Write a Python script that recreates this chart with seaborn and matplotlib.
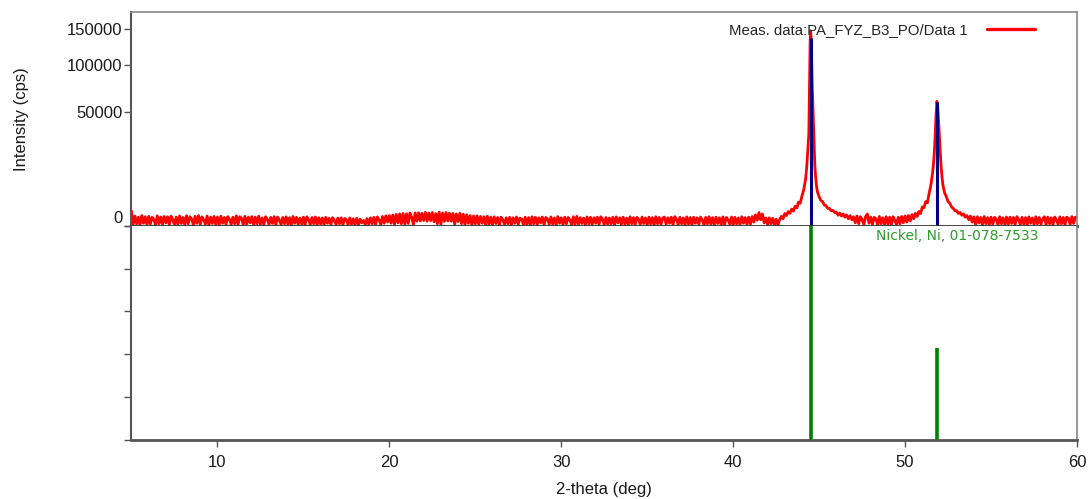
"""XRD pattern of PA_FYZ_B3_PO with Ni reference (01-078-7533)."""
import numpy as np
import pandas as pd
import matplotlib
matplotlib.use("Agg")
import matplotlib.pyplot as plt
import matplotlib.transforms as mtransforms
import seaborn as sns

nan = np.nan

# scan grid of the measured background: 5.0 deg, step 0.1 deg (values in cps)
SCAN_START = 5.0
SCAN_STEP = 0.1
bg_cps = [
    880, 10, 380, 20, 300, 5, 420, 30, 330, 8,              # 5
    360, 15, 290, 180, 5, 400, 20, 310, 10, 350,            # 6
    40, 330, 6, 370, 150, 10, 300, 12, 390, 25,             # 7
    280, 8, 410, 20, 330, 200, 5, 360, 30, 420,             # 8
    10, 320, 150, 15, 380, 6, 300, 25, 350, 12,             # 9
    310, 5, 370, 30, 280, 10, 340, 180, 8, 300,             # 10
    20, 390, 10, 330, 230, 5, 360, 15, 290, 40,             # 11
    340, 8, 300, 20, 370, 12, 250, 6, 330, 180,             # 12
    10, 290, 25, 340, 5, 310, 140, 8, 280, 20,              # 13
    320, 12, 270, 6, 350, 30, 290, 10, 240, 15,             # 14
    300, 5, 330, 160, 8, 280, 20, 310, 10, 260,             # 15
    15, 250, 8, 290, 30, 230, 6, 270, 120, 10,              # 16
    240, 20, 260, 5, 220, 150, 8, 250, 12, 200,             # 17
    10, 230, 6, 180, 40, 120, 5, 210, 15, 260,              # 18
    20, 290, 10, 320, 150, 8, 350, 30, 400, 60,             # 19
    420, 30, 470, 10, 520, 40, 560, 20, 600, 15,            # 20
    580, 25, 640, 300, 10, 660, 90, 680, 100, 620,          # 21
    120, 720, 90, 650, 110, 700, 70, 600, 20, 740,          # 22
    15, 660, 80, 700, 100, 640, 90, 610, 10, 560,           # 23
    80, 620, 20, 540, 10, 480, 30, 420, 5, 390,             # 24
    20, 400, 10, 350, 30, 330, 6, 370, 15, 300,             # 25
    8, 320, 25, 280, 5, 300, 150, 10, 260, 20,              # 26
    290, 6, 260, 30, 310, 10, 240, 180, 8, 300,             # 27
    12, 270, 5, 330, 20, 290, 10, 260, 40, 310,             # 28
    6, 280, 200, 10, 320, 15, 250, 5, 340, 30,              # 29
    260, 8, 300, 20, 280, 150, 6, 330, 12, 360,             # 30
    10, 270, 25, 240, 5, 310, 18, 290, 8, 260,              # 31
    30, 300, 10, 330, 170, 6, 280, 15, 250, 20,             # 32
    290, 5, 320, 40, 260, 10, 300, 12, 240, 8,              # 33
    330, 20, 270, 6, 290, 160, 10, 310, 25, 250,            # 34
    8, 300, 15, 270, 5, 330, 20, 280, 10, 240,              # 35
    310, 12, 260, 30, 300, 6, 340, 180, 10, 290,            # 36
    20, 250, 8, 320, 15, 280, 5, 300, 30, 260,              # 37
    10, 310, 140, 6, 290, 20, 330, 12, 270, 8,              # 38
    300, 25, 260, 5, 320, 10, 280, 150, 15, 310,            # 39
    6, 290, 20, 250, 8, 330, 30, 270, 10, 300,              # 40
    15, 340, 60, 480, 130, 700, 150, 560, 40, 250,          # 41
    10, 260, 20, 230, 8, 180, 2, 150, 360, 200,             # 42
    600, 420, 800, 620, 1100, 850, 1500, 1250, 2200, 2000,  # 43
    3500, 5000, 8000, nan, nan, nan, nan, nan, nan, 4500,   # 44
    3300, 2500, 2300, 1700, 1600, 1200, 1200, 900, 950, 700,   # 45
    750, 450, 640, 380, 560, 300, 470, 200, 420, 150,       # 46
    330, 40, 380, 20, 340, 150, 10, 330, 560, 30,           # 47
    310, 10, 290, 200, 5, 350, 20, 260, 8, 330,             # 48
    15, 300, 6, 330, 120, 10, 290, 20, 350, 40,             # 49
    390, 60, 420, 100, 500, 200, 620, 350, 820, 600,        # 50
    1400, 1300, 2300, 2100, 4200, 6500, nan, nan, nan, nan, # 51
    nan, nan, nan, 4200, 3300, 2300, 2000, 1400, 1200, 900, # 52
    900, 600, 720, 450, 560, 300, 420, 150, 380, 60,        # 53
    320, 10, 330, 40, 280, 6, 350, 20, 270, 8,              # 54
    300, 15, 290, 180, 5, 330, 20, 260, 10, 310,            # 55
    6, 300, 25, 280, 8, 340, 160, 10, 290, 15,              # 56
    270, 5, 320, 30, 250, 10, 330, 20, 280, 12,             # 57
    190, 330, 8, 300, 20, 260, 6, 310, 140, 10,             # 58
    320, 20, 280, 8, 300, 230, 10, 340, 25, 290,            # 59
    300,                                                    # 60
]

# finer readings across the two Ni peaks
peak1_2theta = [44.25, 44.30, 44.35, 44.40, 44.425, 44.45, 44.475, 44.50,
                44.525, 44.55, 44.575, 44.60, 44.65, 44.70, 44.75, 44.80, 44.85]
peak1_cps = [11000, 16000, 24000, 33000, 60000, 95000, 130000, 147000,
             140000, 120000, 95000, 75000, 50000, 30000, 14000, 9000, 6000]
peak2_2theta = [51.55, 51.60, 51.65, 51.70, 51.75, 51.80, 51.85,
                51.90, 51.95, 52.00, 52.05, 52.10, 52.15, 52.20]
peak2_cps = [8500, 11000, 15000, 21000, 32000, 48000, 60000,
             54000, 42000, 30000, 20000, 13000, 9000, 6500]

# measured peak positions (blue sticks)
meas_peak_2theta = [44.50, 51.85]
meas_peak_cps = [137000, 59000]

# reference card Nickel, Ni, 01-078-7533 (relative intensity)
ref_2theta = [44.50, 51.85]
ref_rel_int = [100, 43]

x_ticks = [10, 20, 30, 40, 50, 60]
y_ticks = [0, 50000, 100000, 150000]
y_ticklabels = ["0", "50000", "100000", "150000"]
ref_ticks = [0, 20, 40, 60, 80, 100]

sns.set_theme(style="white")
plt.rcParams["font.family"] = ["Liberation Sans", "DejaVu Sans"]

bg = pd.DataFrame({
    "two_theta": SCAN_START + SCAN_STEP * np.arange(len(bg_cps)),
    "cps": bg_cps,
}).dropna()
peaks = pd.DataFrame({
    "two_theta": peak1_2theta + peak2_2theta,
    "cps": peak1_cps + peak2_cps,
})
scan = pd.concat([bg, peaks]).sort_values("two_theta").reset_index(drop=True)

fig = plt.figure(figsize=(10.9, 4.99), dpi=100)
ax_top = fig.add_axes([0.1206, 0.5471, 0.8675, 0.4279])
ax_bot = fig.add_axes([0.1206, 0.1192, 0.8675, 0.4279], sharex=ax_top)

sns.lineplot(data=scan, x="two_theta", y="cps", ax=ax_top, color="#ff0000",
             lw=2.0, sort=False, estimator=None,
             label="Meas. data:PA_FYZ_B3_PO/Data 1")
ax_top.vlines(meas_peak_2theta, 0, meas_peak_cps, color="#000080", lw=2.2, zorder=3)

ax_top.set_yscale("function", functions=(lambda v: np.sqrt(np.clip(v, 0, None)),
                                         lambda v: np.square(v)))
ax_top.set_ylim(0, 176000)
ax_top.set_xlim(5, 60)
ax_top.set_yticks(y_ticks)
ax_top.set_yticklabels(y_ticklabels)
ax_top.yaxis.get_major_ticks()[0].label1.set_verticalalignment("bottom")
ax_top.tick_params(axis="y", direction="out", length=5, width=1, color="#555555",
                   labelsize=12, labelcolor="#1a1a1a", pad=1.5, left=True)
ax_top.tick_params(axis="x", bottom=False, labelbottom=False)
ax_top.set_xlabel("")
ax_top.set_ylabel("Intensity (cps)", fontsize=12, color="#1a1a1a")
ax_top.yaxis.set_label_coords(-0.108, 0.5)

leg = ax_top.legend(loc="center right", bbox_to_anchor=(0.9556, 0.916),
                    frameon=False, markerfirst=False, fontsize=10.8,
                    handlelength=3.2, handletextpad=1.3, borderpad=0,
                    borderaxespad=0)
for h in leg.legend_handles:
    h.set_linewidth(2.4)

# reference pattern
ax_bot.vlines(ref_2theta, 0, ref_rel_int, color="#008000", lw=2.6)
ax_bot.set_ylim(0, 100)
ax_bot.set_yticks(ref_ticks)
ax_bot.set_yticklabels([])
ax_bot.set_xticks(x_ticks)
ax_bot.tick_params(axis="y", direction="out", length=5, width=1, color="#555555",
                   left=True)
ax_bot.tick_params(axis="x", direction="out", length=5, width=1, color="#555555",
                   labelsize=12, labelcolor="#1a1a1a", pad=6, bottom=True)
ax_bot.set_xlabel("2-theta (deg)", fontsize=12, color="#1a1a1a", labelpad=9)
ax_bot.text(48.3, 0.985, "Nickel, Ni, 01-078-7533", color="#2f9a2f", fontsize=10,
            family=["DejaVu Sans"], va="top", ha="left",
            transform=mtransforms.blended_transform_factory(ax_bot.transData,
                                                            ax_bot.transAxes))

for sp in ("top", "right"):
    ax_top.spines[sp].set_color("#888888")
    ax_top.spines[sp].set_linewidth(1.2)
ax_top.spines["left"].set_color("#555555")
ax_top.spines["left"].set_linewidth(1.5)
ax_top.spines["bottom"].set_color("#333333")
ax_top.spines["bottom"].set_linewidth(2)
ax_top.spines["bottom"].set_zorder(4)

ax_bot.spines["top"].set_visible(False)
ax_bot.spines["right"].set_color("#888888")
ax_bot.spines["right"].set_linewidth(1.2)
ax_bot.spines["left"].set_color("#555555")
ax_bot.spines["left"].set_linewidth(1.5)
ax_bot.spines["bottom"].set_color("#555555")
ax_bot.spines["bottom"].set_linewidth(2)

fig.savefig("out.png", dpi=100)
